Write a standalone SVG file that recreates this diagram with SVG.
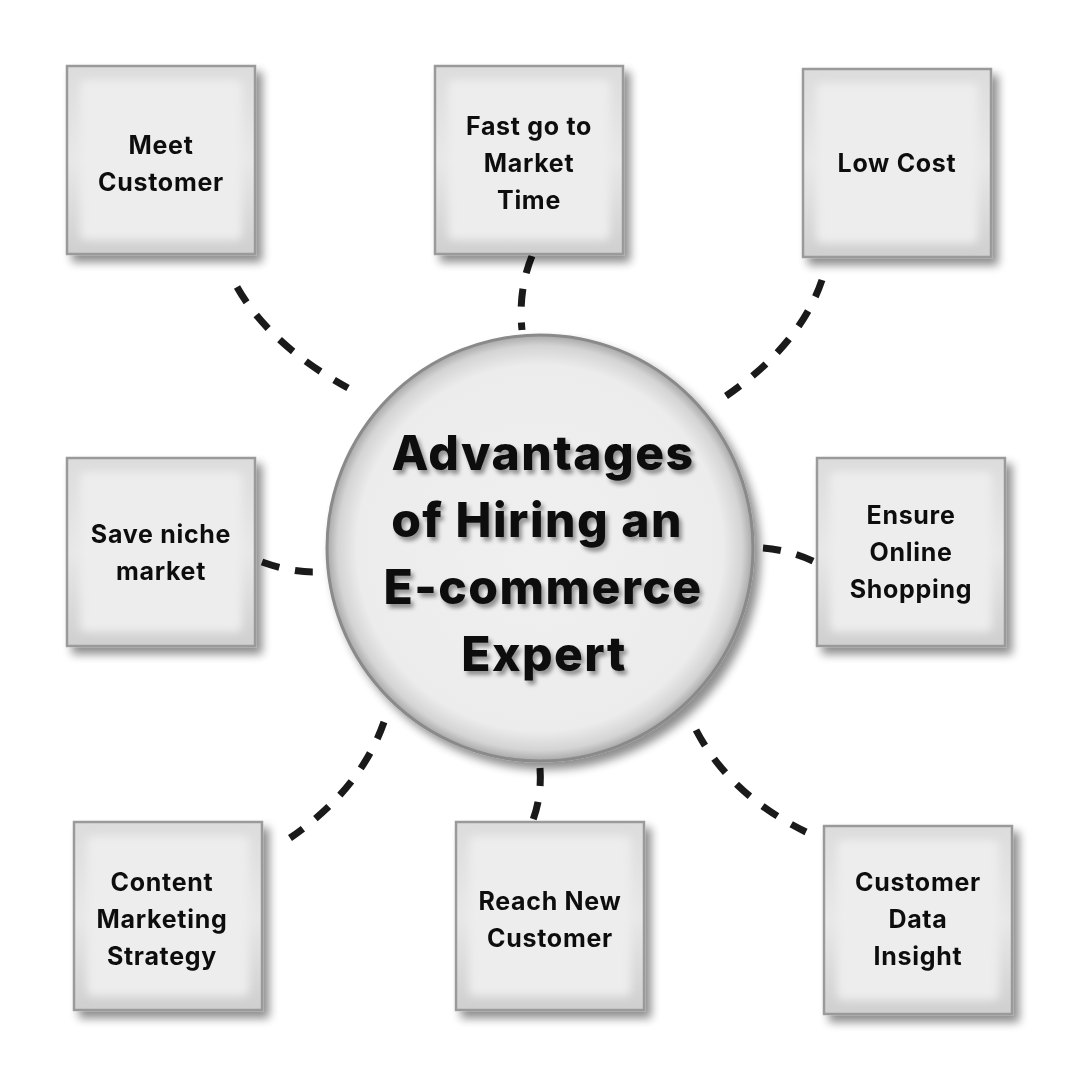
<svg xmlns="http://www.w3.org/2000/svg" width="1080" height="1080" viewBox="0 0 1080 1080">
<defs>
<filter id="sh" x="-20%" y="-20%" width="150%" height="150%">
<feGaussianBlur in="SourceAlpha" stdDeviation="5"/>
<feOffset dx="6" dy="7" result="b"/>
<feComponentTransfer><feFuncA type="linear" slope="0.45"/></feComponentTransfer>
<feMerge><feMergeNode/><feMergeNode in="SourceGraphic"/></feMerge>
</filter>
<filter id="tsh" x="-10%" y="-20%" width="130%" height="160%">
<feGaussianBlur in="SourceAlpha" stdDeviation="2"/>
<feOffset dx="3" dy="4"/>
<feComponentTransfer><feFuncA type="linear" slope="0.4"/></feComponentTransfer>
<feMerge><feMergeNode/><feMergeNode in="SourceGraphic"/></feMerge>
</filter>
<filter id="soft"><feGaussianBlur stdDeviation="4"/></filter>
<linearGradient id="edge" x1="0" y1="0" x2="0" y2="1">
<stop offset="0" stop-color="#dcdcdc"/>
<stop offset="0.5" stop-color="#e8e8e8"/>
<stop offset="1" stop-color="#cfcfcf"/>
</linearGradient>
<radialGradient id="disc" cx="0.5" cy="0.5" r="0.5">
<stop offset="0" stop-color="#f0f0f0"/>
<stop offset="0.86" stop-color="#ececec"/>
<stop offset="0.95" stop-color="#d4d4d4"/>
<stop offset="1" stop-color="#a8a8a8"/>
</radialGradient>
</defs>
<style>
.box{fill:url(#edge);stroke:#9a9a9a;stroke-width:2.5}
.inner{fill:#ededed;filter:url(#soft)}
.lbl{font-family:Inter,"Open Sans","Liberation Sans",sans-serif;font-weight:700;font-size:25px;letter-spacing:0.7px;fill:#111;text-anchor:middle}
.title{font-family:Inter,"Open Sans","Liberation Sans",sans-serif;font-weight:800;font-size:48px;letter-spacing:1.5px;fill:#0c0c0c;text-anchor:middle}
.dash{fill:none;stroke:#1a1a1a;stroke-width:7;stroke-dasharray:18 16}
</style>
<rect width="1080" height="1080" fill="#ffffff"/>
<g id="connectors">
<path class="dash" d="M237,287 Q270,345 348,388"/>
<path class="dash" d="M532,256 Q518,290 522,330"/>
<path class="dash" d="M822,280 Q800,345 726,396"/>
<path class="dash" d="M262,562 Q290,572 313,572"/>
<path class="dash" d="M763,548 Q790,550 815,562"/>
<path class="dash" d="M384,722 Q360,790 290,838"/>
<path class="dash" d="M540,768 Q542,795 533,820"/>
<path class="dash" d="M696,730 Q730,795 806,832"/>
</g>
<g id="center">
<circle cx="540" cy="548" r="213" fill="url(#disc)" stroke="#8a8a8a" stroke-width="3" filter="url(#sh)"/>
<g filter="url(#tsh)">
<text class="title" x="543" y="470">Advantages</text>
<text class="title" x="537" y="537">of Hiring an</text>
<text class="title" x="543" y="604">E-commerce</text>
<text class="title" x="544" y="671">Expert</text>
</g>
</g>
<g id="n1" filter="url(#sh)"><rect class="box" x="67" y="66" width="188" height="188"/><rect class="inner" x="80" y="80" width="162" height="160" rx="6"/><text class="lbl" x="161" y="154">Meet</text><text class="lbl" x="161" y="191">Customer</text></g>
<g id="n2" filter="url(#sh)"><rect class="box" x="435" y="66" width="188" height="188"/><rect class="inner" x="448" y="80" width="162" height="160" rx="6"/><text class="lbl" x="529" y="135">Fast go to</text><text class="lbl" x="529" y="172">Market</text><text class="lbl" x="529" y="209">Time</text></g>
<g id="n3" filter="url(#sh)"><rect class="box" x="803" y="69" width="188" height="188"/><rect class="inner" x="816" y="83" width="162" height="160" rx="6"/><text class="lbl" x="897" y="172">Low Cost</text></g>
<g id="n4" filter="url(#sh)"><rect class="box" x="67" y="458" width="188" height="188"/><rect class="inner" x="80" y="472" width="162" height="160" rx="6"/><text class="lbl" x="161" y="543">Save niche</text><text class="lbl" x="161" y="580">market</text></g>
<g id="n5" filter="url(#sh)"><rect class="box" x="817" y="458" width="188" height="188"/><rect class="inner" x="830" y="472" width="162" height="160" rx="6"/><text class="lbl" x="911" y="524">Ensure</text><text class="lbl" x="911" y="561">Online</text><text class="lbl" x="911" y="598">Shopping</text></g>
<g id="n6" filter="url(#sh)"><rect class="box" x="74" y="822" width="188" height="188"/><rect class="inner" x="87" y="836" width="162" height="160" rx="6"/><text class="lbl" x="162" y="891">Content</text><text class="lbl" x="162" y="928">Marketing</text><text class="lbl" x="162" y="965">Strategy</text></g>
<g id="n7" filter="url(#sh)"><rect class="box" x="456" y="822" width="188" height="188"/><rect class="inner" x="469" y="836" width="162" height="160" rx="6"/><text class="lbl" x="550" y="910">Reach New</text><text class="lbl" x="550" y="947">Customer</text></g>
<g id="n8" filter="url(#sh)"><rect class="box" x="824" y="826" width="188" height="188"/><rect class="inner" x="837" y="840" width="162" height="160" rx="6"/><text class="lbl" x="918" y="891">Customer</text><text class="lbl" x="918" y="928">Data</text><text class="lbl" x="918" y="965">Insight</text></g>
</svg>
